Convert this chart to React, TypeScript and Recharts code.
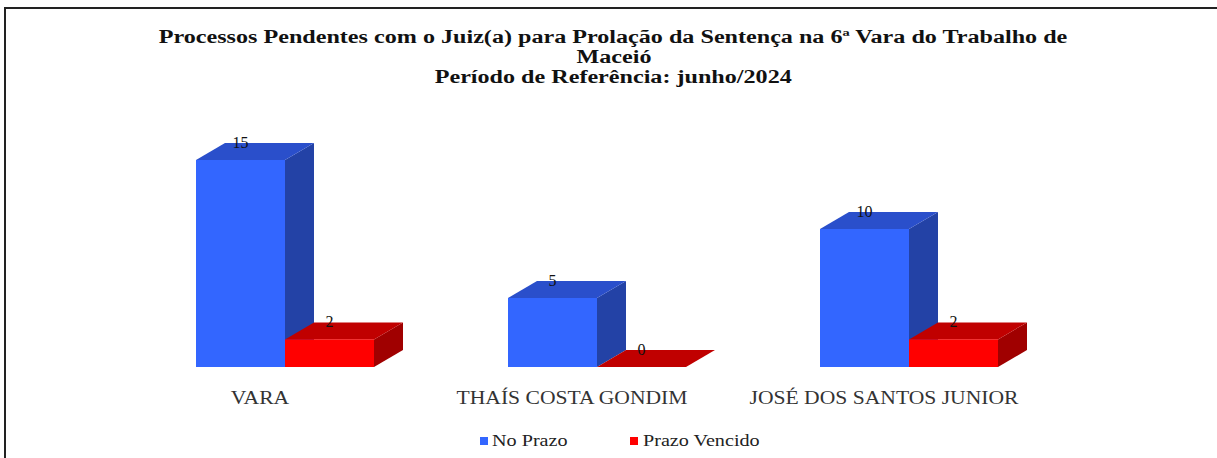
import { Bar, BarChart, LabelList, XAxis, YAxis } from "recharts"

const categories = ["VARA", "THAÍS COSTA GONDIM", "JOSÉ DOS SANTOS JUNIOR"]
const noPrazo = [15, 5, 10]
const prazoVencido = [2, 0, 2]
const titleLines = [
  "Processos Pendentes com o Juiz(a) para Prolação da Sentença na 6ª Vara do Trabalho de",
  "Maceió",
  "Período de Referência: junho/2024",
]

const data = categories.map((name, i) => ({
  name,
  noPrazo: noPrazo[i],
  prazoVencido: prazoVencido[i],
}))

const DX = 29
const DY = 17
const serif = "'Liberation Serif', 'Times New Roman', serif"

const Box3D = (props: any) => {
  const { x, y, width, height, front, top, side } = props
  return (
    <g>
      <polygon
        points={`${x + width},${y} ${x + width + DX},${y - DY} ${x + width + DX},${y + height - DY} ${x + width},${y + height}`}
        fill={side}
      />
      <polygon
        points={`${x},${y} ${x + DX},${y - DY} ${x + width + DX},${y - DY} ${x + width},${y}`}
        fill={top}
      />
      {height > 0 && <rect x={x} y={y} width={width} height={height} fill={front} />}
    </g>
  )
}

const ValueLabel = (props: any) => {
  const { x, y, width, value } = props
  return (
    <text x={x + width / 2} y={y - DY + 5} textAnchor="middle" fontFamily={serif} fontSize={16} fill="#111">
      {value}
    </text>
  )
}

const CategoryTick = (props: any) => {
  const { x, y, payload } = props
  return (
    <text
      transform={`translate(${x - 25},${y + 29}) scale(1.2,1)`}
      textAnchor="middle"
      fontFamily={serif}
      fontSize={18}
      fill="#333"
    >
      {payload.value}
    </text>
  )
}

export default function App() {
  return (
    <div style={{ position: "absolute", left: 0, top: 0, width: 1217, height: 458, background: "#fff", overflow: "hidden" }}>
      <div
        style={{
          position: "absolute",
          left: 4,
          top: 7,
          width: 1230,
          height: 470,
          borderLeft: "2px solid #222",
          borderTop: "2px solid #222",
        }}
      />
      <div
        style={{
          position: "absolute",
          left: 0,
          top: 27,
          width: 1227,
          textAlign: "center",
          fontFamily: serif,
          fontWeight: "bold",
          fontSize: 18,
          lineHeight: "20px",
          color: "#111",
        }}
      >
        {titleLines.map((t) => (
          <div key={t}>
            <span style={{ display: "inline-block", transform: "scaleX(1.34)" }}>{t}</span>
          </div>
        ))}
      </div>
      <BarChart
        width={1217}
        height={458}
        data={data}
        margin={{ top: 160, right: 152, bottom: 51, left: 129 }}
        barGap={0}
        barSize={89}
      >
        <XAxis dataKey="name" axisLine={false} tickLine={false} height={40} tick={<CategoryTick />} interval={0} />
        <YAxis hide domain={[0, 15]} />
        <Bar
          dataKey="noPrazo"
          name="No Prazo"
          isAnimationActive={false}
          shape={(p: any) => <Box3D {...p} front="#3366FF" top="#2A4FCB" side="#2342A6" />}
        >
          <LabelList dataKey="noPrazo" content={<ValueLabel />} />
        </Bar>
        <Bar
          dataKey="prazoVencido"
          name="Prazo Vencido"
          isAnimationActive={false}
          shape={(p: any) => <Box3D {...p} front="#FF0000" top="#C00000" side="#A00000" />}
        >
          <LabelList dataKey="prazoVencido" content={<ValueLabel />} />
        </Bar>
      </BarChart>
      <div
        style={{
          position: "absolute",
          left: 480,
          top: 431,
          fontFamily: serif,
          fontSize: 16,
          lineHeight: "20px",
          color: "#222",
          display: "flex",
          alignItems: "center",
        }}
      >
        <span style={{ width: 8, height: 8, background: "#3366FF", display: "inline-block" }} />
        <span style={{ display: "inline-block", transform: "scaleX(1.26)", transformOrigin: "left", marginLeft: 4, width: 138 }}>
          No Prazo
        </span>
        <span style={{ width: 8, height: 8, background: "#FF0000", display: "inline-block" }} />
        <span style={{ display: "inline-block", transform: "scaleX(1.26)", transformOrigin: "left", marginLeft: 5 }}>
          Prazo Vencido
        </span>
      </div>
    </div>
  )
}
